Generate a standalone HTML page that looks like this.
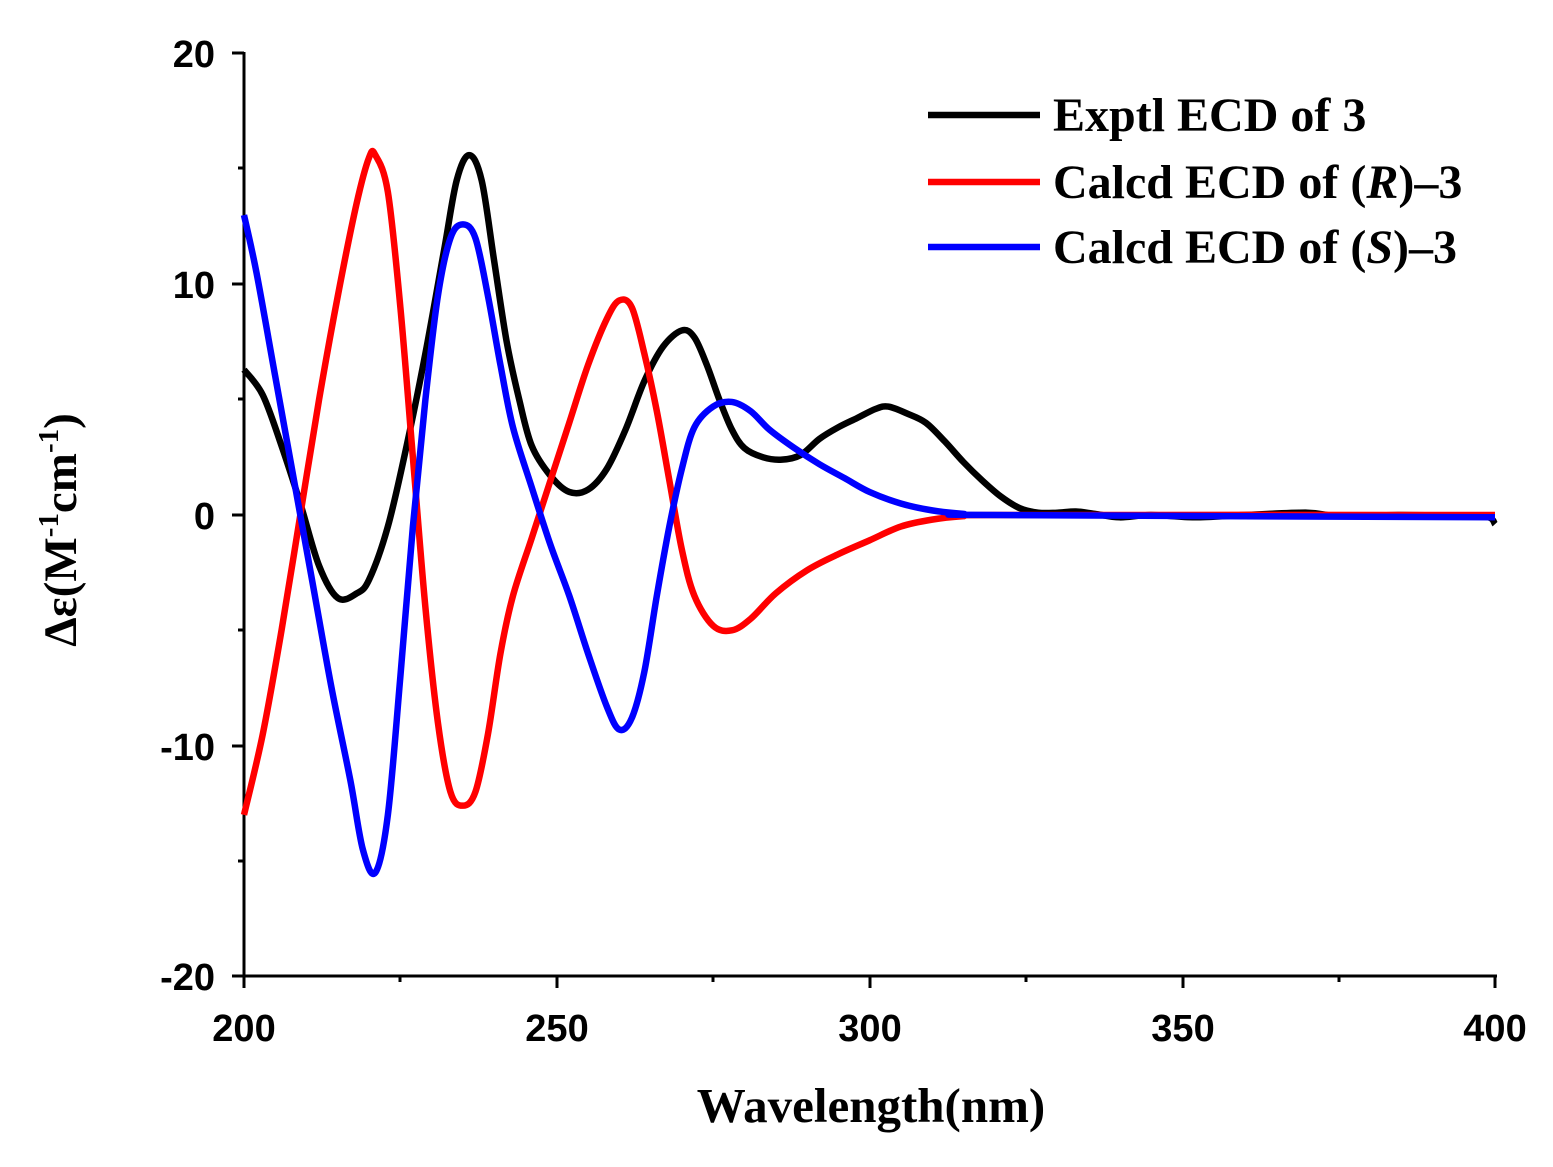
<!DOCTYPE html>
<html><head><meta charset="utf-8"><style>
html,body{margin:0;padding:0;background:#fff;}
svg{display:block;}
.tk{font-family:"Liberation Sans",sans-serif;font-weight:bold;font-size:38px;}
.lg{font-family:"Liberation Serif",serif;font-weight:bold;font-size:48px;}
</style></head><body>
<svg id="s" width="1553" height="1167" viewBox="0 0 1553 1167" xmlns="http://www.w3.org/2000/svg">
<g stroke="#000" stroke-width="3" fill="none">
<line x1="244" y1="52" x2="244" y2="977"/>
<line x1="243" y1="976" x2="1497" y2="976"/>
<line x1="232" y1="53" x2="244" y2="53"/>
<line x1="232" y1="284" x2="244" y2="284"/>
<line x1="232" y1="515" x2="244" y2="515"/>
<line x1="232" y1="746" x2="244" y2="746"/>
<line x1="232" y1="976" x2="244" y2="976"/>
<line x1="238" y1="168" x2="244" y2="168"/>
<line x1="238" y1="399" x2="244" y2="399"/>
<line x1="238" y1="630" x2="244" y2="630"/>
<line x1="238" y1="861" x2="244" y2="861"/>
<line x1="244" y1="976" x2="244" y2="988"/>
<line x1="557" y1="976" x2="557" y2="988"/>
<line x1="870" y1="976" x2="870" y2="988"/>
<line x1="1183" y1="976" x2="1183" y2="988"/>
<line x1="1495" y1="976" x2="1495" y2="988"/>
<line x1="400" y1="976" x2="400" y2="982"/>
<line x1="713" y1="976" x2="713" y2="982"/>
<line x1="1026" y1="976" x2="1026" y2="982"/>
<line x1="1339" y1="976" x2="1339" y2="982"/>
</g>
<g class="tk" text-anchor="end">
<text x="215" y="67">20</text>
<text x="215" y="298">10</text>
<text x="215" y="529">0</text>
<text x="215" y="760">-10</text>
<text x="215" y="990">-20</text>
</g>
<g class="tk" text-anchor="middle">
<text x="244" y="1041">200</text>
<text x="557" y="1041">250</text>
<text x="870" y="1041">300</text>
<text x="1183" y="1041">350</text>
<text x="1495" y="1041">400</text>
</g>
<text x="871" y="1122" text-anchor="middle" font-family="Liberation Serif,serif" font-weight="bold" font-size="49">Wavelength(nm)</text>
<text transform="translate(76,530) rotate(-90)" text-anchor="middle" font-family="Liberation Serif,serif" font-weight="bold" font-size="47">Δε(M<tspan font-size="29" dy="-18">-1</tspan><tspan dy="18">cm</tspan><tspan font-size="29" dy="-18">-1</tspan><tspan dy="18">)</tspan></text>
<g id="cv" transform="translate(244,515) scale(6.255,-23.07) translate(-200,0)" fill="none" stroke-width="6.5" stroke-linejoin="round">
<polyline vector-effect="non-scaling-stroke" stroke="#000" points="200,6.3 203,5.2 206,3 209,0.5 212,-2.2 215,-3.6 218,-3.4 220,-2.8 223,-0.5 226,3 229,7 232,11.5 234,14.5 236,15.6 238,14.5 240,11 242,7.5 244,5 246,3 249,1.7 252,1.0 255,1.1 258,2 261,3.7 264,5.8 267,7.3 270,8.0 272,7.7 274,6.5 276,5 278,3.7 280,2.9 283,2.5 286,2.4 289,2.6 292,3.3 295,3.8 298,4.2 301,4.6 303,4.7 306,4.4 309,4 312,3.2 315,2.3 318,1.5 321,0.8 324,0.3 327,0.1 330,0.1 333,0.15 336,0.05 340,-0.1 345,0 352,-0.1 360,0 370,0.1 375,-0.05 385,0 395,-0.05 399,-0.1 400,-0.4"/>
<polyline vector-effect="non-scaling-stroke" stroke="#ff0000" points="200,-13 203,-9.5 206,-5 209,0 212,5 215,9.5 218,13.5 220,15.5 221,15.6 223,14 225,9 227,2.5 229,-4 231,-9 233,-12 235,-12.6 237,-12 239,-9.5 241,-6 243,-3.5 246,-1 249,1.5 252,4 255,6.5 258,8.5 260,9.3 262,9 264,7 266,4.5 268,1.5 270,-1.5 272,-3.5 275,-4.8 278,-5 281,-4.5 285,-3.4 290,-2.4 295,-1.7 300,-1.1 305,-0.5 310,-0.2 315,-0.05 320,0 400,0"/>
<polyline vector-effect="non-scaling-stroke" stroke="#0000ff" points="200,13 202,10.5 205,6 208,1.5 211,-3 214,-7.5 217,-11.5 219,-14.5 221,-15.5 223,-13 225,-7 227,-0.5 229,5 231,9.5 233,12 235,12.6 237,12 239,9.5 241,6.5 243,3.8 246,1.2 249,-1.3 252,-3.5 255,-6 258,-8.3 260,-9.3 262,-8.8 264,-6.8 266,-3.5 268,-0.5 270,2 272,3.8 275,4.7 278,4.9 281,4.5 284,3.7 288,2.9 292,2.2 296,1.6 300,1.0 305,0.5 310,0.2 315,0.05 320,0 400,-0.1"/>
</g>
<g stroke-width="6.5">
<line x1="928" y1="115" x2="1040" y2="115" stroke="#000"/>
<line x1="928" y1="182" x2="1040" y2="182" stroke="#ff0000"/>
<line x1="928" y1="247" x2="1040" y2="247" stroke="#0000ff"/>
</g>
<g class="lg">
<text x="1053" y="131">Exptl ECD of 3</text>
<text x="1053" y="198">Calcd ECD of (<tspan font-style="italic">R</tspan>)–3</text>
<text x="1053" y="263">Calcd ECD of (<tspan font-style="italic">S</tspan>)–3</text>
</g>
</svg>
<script>
(function(){
var g=document.getElementById('cv');var s=document.getElementById('s');
var pls=g.querySelectorAll('polyline');
for(var i=0;i<pls.length;i++){
var pl=pls[i];var pts=pl.getAttribute('points').trim().split(/\s+/).map(function(p){var a=p.split(',');return [244+(+a[0]-200)*6.255,515-(+a[1])*23.07];});
var d='M'+pts[0][0]+','+pts[0][1];
for(var j=0;j<pts.length-1;j++){
var p0=pts[j-1]||pts[j],p1=pts[j],p2=pts[j+1],p3=pts[j+2]||p2;
var c1=[p1[0]+(p2[0]-p0[0])/6,p1[1]+(p2[1]-p0[1])/6];
var c2=[p2[0]-(p3[0]-p1[0])/6,p2[1]-(p3[1]-p1[1])/6];
d+='C'+c1[0]+','+c1[1]+' '+c2[0]+','+c2[1]+' '+p2[0]+','+p2[1];}
var path=document.createElementNS('http://www.w3.org/2000/svg','path');
path.setAttribute('d',d);path.setAttribute('fill','none');path.setAttribute('stroke',pl.getAttribute('stroke'));
path.setAttribute('stroke-width','6.5');path.setAttribute('stroke-linejoin','round');
s.insertBefore(path,g);}
g.parentNode.removeChild(g);
})();
</script>
</body></html>
